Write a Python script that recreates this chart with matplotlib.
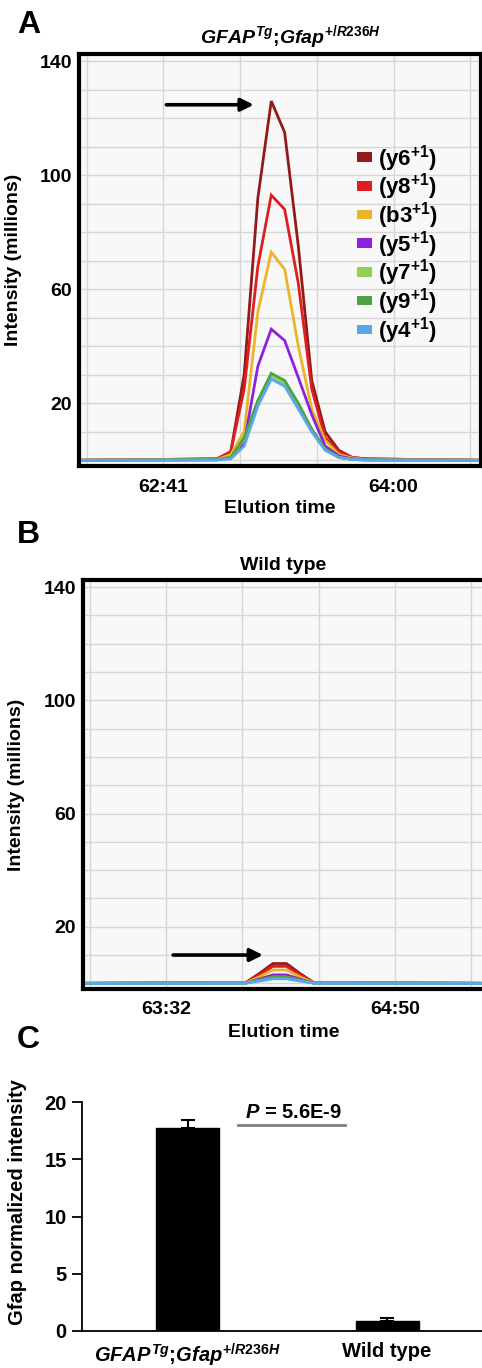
import numpy as np
import matplotlib
matplotlib.use("Agg")
import matplotlib.pyplot as plt
from matplotlib.patches import Patch

plt.rcParams["font.family"] = ["Liberation Sans", "DejaVu Sans"]
plt.rcParams["font.weight"] = "bold"
plt.rcParams["axes.labelweight"] = "bold"
plt.rcParams["axes.titleweight"] = "bold"
plt.rcParams["mathtext.fontset"] = "custom"
plt.rcParams["mathtext.rm"] = "Liberation Sans:bold"
plt.rcParams["mathtext.it"] = "Liberation Sans:bold:italic"
plt.rcParams["mathtext.bf"] = "Liberation Sans:bold"

# ---- data ----
ion_names = ["y6", "y8", "b3", "y5", "y7", "y9", "y4"]
ion_colors = ["#931a1a", "#de1f1f", "#ebb52a", "#8e22dc", "#93d150", "#4ea244", "#5ca7ea"]

# panel A: GFAP Tg ; Gfap +/R236H  (elution time in seconds)
time_a = [3732, 3779.4, 3784.1, 3788.7, 3793.4, 3798.0, 3802.6, 3807.3,
          3811.9, 3816.5, 3821.2, 3825.8, 3830.4, 3870]
y6_a = [0, 0.5, 3, 30, 92, 126, 115, 75, 28, 10, 3.5, 1, 0.5, 0]
y8_a = [0, 0.5, 3, 25, 68, 93, 88, 62, 25, 8, 3, 1, 0.5, 0]
b3_a = [0, 0.3, 2, 10, 52, 73, 67, 40, 18, 7, 2, 0.8, 0.3, 0]
y5_a = [0, 0.2, 1, 6, 33, 46, 42, 29, 16, 5, 1.5, 0.5, 0.2, 0]
y7_a = [0, 0.2, 1, 7.5, 20.5, 29.5, 27, 19, 10.5, 3.8, 1, 0.3, 0.1, 0]
y9_a = [0, 0.2, 1, 8, 21, 30.5, 28, 20, 11, 4, 1, 0.3, 0.1, 0]
y4_a = [0, 0.1, 0.5, 5, 19, 28.5, 26, 18, 10, 3.5, 1, 0.3, 0.1, 0]
ticks_a = [3761, 3840]
ticklabels_a = ["62:41", "64:00"]

# panel B: wild type
time_b = [3783, 3839.2, 3843.8, 3848.4, 3853.0, 3857.6, 3862.2, 3921]
y6_b = [0, 0.3, 3.5, 7, 7, 3.5, 0.3, 0]
y8_b = [0, 0.3, 3, 6, 6, 3, 0.3, 0]
b3_b = [0, 0.2, 2.3, 4.7, 4.7, 2.3, 0.2, 0]
y5_b = [0, 0.1, 1.5, 3, 3, 1.5, 0.1, 0]
y7_b = [0, 0.1, 1.1, 2.2, 2.2, 1.1, 0.1, 0]
y9_b = [0, 0.1, 1.1, 2.2, 2.2, 1.1, 0.1, 0]
y4_b = [0, 0.1, 0.8, 1.6, 1.6, 0.8, 0.1, 0]
ticks_b = [3812, 3890]
ticklabels_b = ["63:32", "64:50"]

# panel C: normalized intensity
groups = [r"$GFAP^{Tg}$;$Gfap^{+/R236H}$", "Wild type"]
norm_int = [17.7, 0.87]
norm_err = [0.7, 0.25]

genotype_title = r"$GFAP^{Tg}$;$Gfap^{+/R236H}$"


def chromatogram(ax, t, series, ticks, ticklabels, xlim, arrow_x, arrow_y):
    ax.set_facecolor("#f8f8f8")
    for s, c in zip(series, ion_colors):
        ax.plot(t, s, color=c, lw=2.0, solid_joinstyle="miter")
    step = (ticks[1] - ticks[0]) / 3
    ax.set_xticks(ticks)
    ax.set_xticklabels(ticklabels)
    ax.set_xticks(ticks[0] + step * np.arange(-1, 5), minor=True)
    ax.set_yticks([20, 60, 100, 140])
    ax.set_yticks(np.arange(0, 141, 10), minor=True)
    ax.grid(which="both", color="#d6d6d6", lw=1.0)
    ax.set_axisbelow(True)
    ax.set_xlim(*xlim)
    ax.set_ylim(-2, 142.5)
    ax.tick_params(which="both", length=0, labelsize=14)
    ax.tick_params(axis="x", pad=9)
    ax.tick_params(axis="y", pad=5)
    for sp in ax.spines.values():
        sp.set_linewidth(3)
        sp.set_color("black")
    ax.set_ylabel("Intensity (millions)", fontsize=14)
    ax.set_xlabel("Elution time", fontsize=14, va="top")
    ax.annotate("", xy=(arrow_x[1], arrow_y), xytext=(arrow_x[0], arrow_y),
                arrowprops=dict(arrowstyle="-|>", lw=2.6, color="black",
                                mutation_scale=19, shrinkA=0, shrinkB=0))


fig = plt.figure(figsize=(4.82, 13.68), dpi=100)
W, H = 482, 1368

def px_axes(l, t, r, b):
    return fig.add_axes([l / W, 1 - b / H, (r - l) / W, (b - t) / H])

# A
ax_a = px_axes(79, 54, 481, 466)
chromatogram(ax_a, time_a, [y6_a, y8_a, b3_a, y5_a, y7_a, y9_a, y4_a],
             ticks_a, ticklabels_a, (3732, 3870), (3762, 3792), 124.7)
ax_a.set_title(genotype_title, fontsize=14, pad=8, x=0.525)
ax_a.yaxis.set_label_coords(-0.142, 0.5)
ax_a.xaxis.set_label_coords(0.5, -0.083)
handles = [Patch(facecolor=c, edgecolor="none") for c in ion_colors]
labels = [f"({n}$^{{+1}}$)" for n in ion_names]
ax_a.legend(handles, labels, loc="upper left", bbox_to_anchor=(0.67, 0.806),
            frameon=False, fontsize=16, handlelength=0.65, handleheight=0.28,
            handletextpad=0.3, labelspacing=-0.1, borderaxespad=0)

# B
ax_b = px_axes(83, 580, 484, 989)
chromatogram(ax_b, time_b, [y6_b, y8_b, b3_b, y5_b, y7_b, y9_b, y4_b],
             ticks_b, ticklabels_b, (3783.7, 3920.3), (3814.4, 3845), 10)
ax_b.set_title("Wild type", fontsize=14, pad=7)
ax_b.yaxis.set_label_coords(-0.145, 0.5)
ax_b.xaxis.set_label_coords(0.5, -0.086)

# C
ax_c = px_axes(82, 1102, 484, 1331)
pos = np.arange(len(norm_int))
ax_c.bar(pos, norm_int, width=0.316, color="black", edgecolor="black")
ax_c.errorbar(pos, norm_int, yerr=[[0] * len(norm_err), norm_err], fmt="none",
              ecolor="black", elinewidth=1.5, capsize=5, capthick=1.5)
ax_c.set_xlim(-0.529, 1.486)
ax_c.set_ylim(0, 20)
ax_c.set_yticks([0, 5, 10, 15, 20])
ax_c.set_xticks(pos)
ax_c.set_xticklabels(groups)
ax_c.tick_params(axis="y", length=7, width=1.3, labelsize=14.5, pad=4)
ax_c.tick_params(axis="x", length=0, labelsize=14.5, pad=8)
for s in ["top", "right"]:
    ax_c.spines[s].set_visible(False)
for s in ["left", "bottom"]:
    ax_c.spines[s].set_linewidth(1.3)
ax_c.set_ylabel("Gfap normalized intensity", fontsize=14.5)
ax_c.yaxis.set_label_coords(-0.1375, 0.563)
ax_c.plot([0.253, 0.789], [18.0, 18.0], color="#808080", lw=2)
ax_c.text(0.529, 19.1, r"$P$ = 5.6E-9", ha="center", va="center", fontsize=14.5)

# panel letters
for letter, base in zip("ABC", [33, 543, 1048]):
    fig.text(17 / W, 1 - base / H, letter, fontsize=23, fontweight="bold",
             va="baseline", ha="left")

fig.savefig("out.png", dpi=100)
